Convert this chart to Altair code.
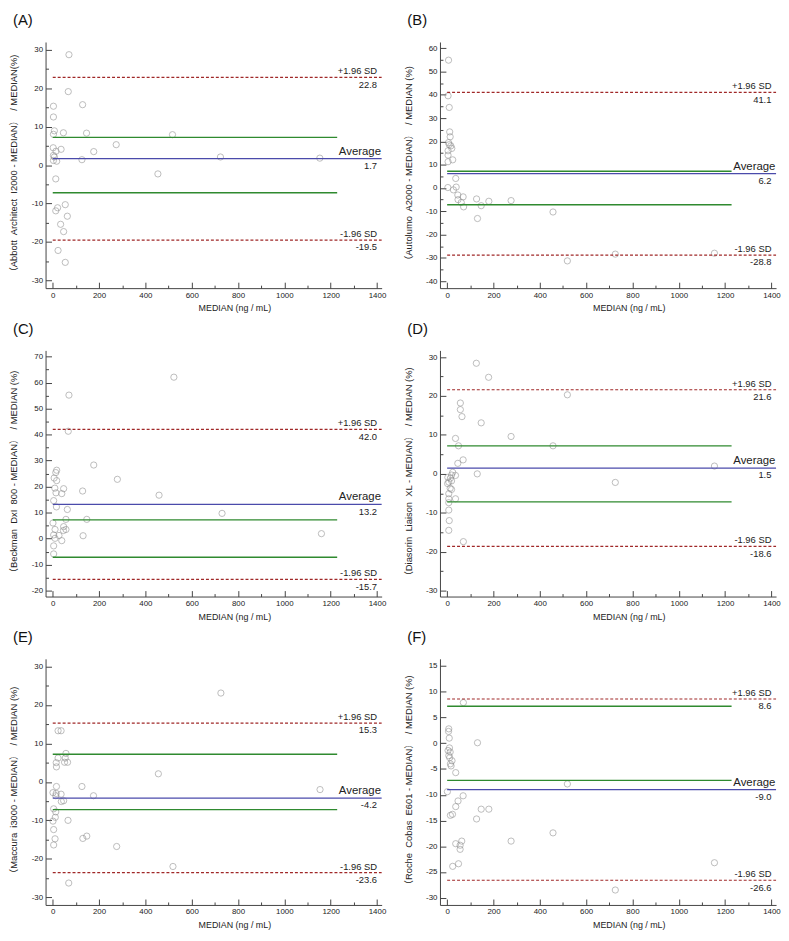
import altair as alt
import pandas as pd

FONT = "Liberation Sans"
CJK_FONT = "Liberation Sans, Noto Sans CJK SC"
NB = "\u00a0"

# ---------------- data ----------------
PANEL_LABELS = ["(A)", "(B)", "(C)", "(D)", "(E)", "(F)"]
Y_TITLES = [
    "（Abbott  Architect  I2000 - MEDIAN）  / MEDIAN(%)",
    "（Autolumo  A2000 - MEDIAN）  / MEDIAN (%)",
    "（Beckman  DxI  800 - MEDIAN）  / MEDIAN (%)",
    "（Diasorin  Liaison  XL - MEDIAN）  / MEDIAN (%)",
    "（Maccura  i3000 - MEDIAN）  / MEDIAN (%)",
    "（Roche  Cobas  E601 - MEDIAN）  / MEDIAN (%)",
]
X_TITLE = "MEDIAN (ng / mL)"

A_X = [70, 67, 3, 129, 3, 7, 3, 46, 146, 517, 2, 36, 14, 177, 274, 3, 7, 3, 17, 126, 724, 1153, 454, 13, 54, 21, 13, 63, 34, 47, 23, 54]
A_Y = [28.7, 19.1, 15.3, 15.7, 12.5, 8.9, 8.0, 8.4, 8.3, 7.9, 4.5, 4.1, 3.6, 3.5, 5.3, 2.5, 2.1, 1.2, 1.0, 1.4, 2.1, 1.8, -2.3, -3.6, -10.3, -11.1, -11.9, -13.3, -15.4, -17.3, -22.2, -25.3]

B_X = [6, 4, 9, 11, 13, 6, 9, 16, 20, 4, 4, 24, 4, 37, 39, 3, 27, 46, 47, 69, 61, 71, 127, 147, 180, 276, 131, 457, 519, 726, 1154]
B_Y = [54.9, 39.6, 34.6, 24.1, 22.0, 19.5, 18.6, 18.1, 17.0, 16.0, 14.1, 12.1, 11.3, 4.1, 0.4, 0.2, -0.8, -3.0, -5.0, -3.8, -6.2, -8.1, -4.7, -7.6, -5.7, -5.4, -13.1, -10.3, -31.3, -28.4, -28.0]

C_X = [523, 70, 67, 177, 279, 17, 13, 6, 17, 9, 47, 14, 39, 129, 459, 4, 16, 63, 731, 57, 147, 1, 47, 10, 57, 46, 4, 27, 10, 131, 1160, 39, 4, 4]
C_Y = [62.1, 55.2, 41.3, 28.3, 22.8, 26.3, 25.4, 23.3, 22.3, 19.4, 19.2, 17.6, 17.3, 18.3, 16.7, 14.6, 12.2, 11.2, 9.7, 7.4, 7.4, 6.0, 4.6, 3.5, 3.5, 3.1, 1.4, 1.2, 0.1, 1.1, 1.9, -0.8, -2.8, -5.9]

D_X = [126, 179, 519, 57, 57, 64, 147, 276, 36, 49, 457, 69, 46, 1154, 24, 19, 36, 3, 14, 7, 19, 2, 13, 19, 7, 36, 7, 130, 726, 7, 7, 9, 7, 70]
D_Y = [28.4, 24.8, 20.3, 18.2, 16.5, 14.7, 13.1, 9.6, 9.1, 7.2, 7.2, 3.6, 2.7, 2.0, 0.4, -0.3, -0.4, -0.9, -1.1, -2.1, -1.8, -2.5, -3.7, -4.0, -5.1, -6.4, -6.4, 0.0, -2.2, -7.4, -9.3, -12.0, -14.5, -17.4]

E_X = [1154, 726, 519, 456, 276, 176, 147, 130, 126, 69, 66, 57, 54, 51, 64, 23, 23, 36, 15, 16, 16, 1, 36, 15, 13, 37, 47, 4, 13, 11, 1, 4, 10, 4]
E_Y = [-2.0, 23.1, -22.0, 2.1, -16.8, -3.6, -14.1, -14.7, -1.2, -26.3, -10.0, 7.4, 6.2, 5.1, 5.1, 6.2, 13.3, 13.3, 5.0, 3.9, -1.2, -2.8, -3.2, -3.0, -3.6, -5.1, -4.9, -7.0, -7.8, -9.2, -10.2, -12.4, -14.8, -16.4]

F_X = [70, 7, 6, 9, 131, 10, 4, 13, 7, 11, 21, 14, 17, 37, 519, 1, 69, 47, 37, 147, 180, 23, 14, 127, 457, 63, 276, 37, 56, 56, 49, 24, 1154, 726]
F_Y = [7.9, 2.8, 2.3, 1.0, 0.1, -0.9, -1.4, -1.7, -2.4, -2.8, -3.4, -4.0, -4.4, -5.7, -7.9, -9.4, -10.2, -11.2, -12.3, -12.8, -12.8, -13.8, -14.0, -14.7, -17.4, -19.0, -19.0, -19.5, -19.8, -20.6, -23.4, -23.9, -23.2, -28.5]

XS = [A_X, B_X, C_X, D_X, E_X, F_X]
YS = [A_Y, B_Y, C_Y, D_Y, E_Y, F_Y]

MEANS = [1.7, 6.2, 13.2, 1.5, -4.2, -9.0]
UPPER = [22.8, 41.1, 42.0, 21.6, 15.3, 8.6]
LOWER = [-19.5, -28.8, -15.7, -18.6, -23.6, -26.6]
GREEN_LIMITS = [7.2, -7.2]

X_DOMAIN = [-31, 1420]
LINE_START = 0
LINE_END = 1420
GREEN_END = 1228
LABEL_X = 1400

X_MAJOR = [0, 200, 400, 600, 800, 1000, 1200, 1400]
X_MINOR = [100, 300, 500, 700, 900, 1100, 1300]

Y_DOMAINS = [[-32, 32], [-43, 62.7], [-22.3, 72.4], [-31.5, 31.7], [-32, 32], [-31.4, 16.4]]
Y_MAJOR = [
    [-30, -20, -10, 0, 10, 20, 30],
    [-40, -30, -20, -10, 0, 10, 20, 30, 40, 50, 60],
    [-20, -10, 0, 10, 20, 30, 40, 50, 60, 70],
    [-30, -20, -10, 0, 10, 20, 30],
    [-30, -20, -10, 0, 10, 20, 30],
    [-30, -25, -20, -15, -10, -5, 0, 5, 10, 15],
]
Y_MINOR = [
    [-25, -15, -5, 5, 15, 25],
    [-35, -25, -15, -5, 5, 15, 25, 35, 45, 55],
    [-15, -5, 5, 15, 25, 35, 45, 55, 65],
    [-25, -15, -5, 5, 15, 25],
    [-25, -15, -5, 5, 15, 25],
    [],
]

# ---------------- style ----------------
W, H = 340, 249
AXIS_COLOR = "#444444"
TEXT_COLOR = "#222222"
POINT_COLOR = "#8a8a8a"
AVG_COLOR = "#4b4bab"
SD_COLOR = "#a02828"
GREEN_COLOR = "#2f8a2f"

LABEL_EXPR = "'' + datum.value"


def keep_spaces(s):
    # SVG collapses runs of spaces; keep the double gaps of the original
    return s.replace("  ", NB + " ")


def tick_axis(orient, values, size):
    return alt.Axis(
        orient=orient, values=values, labels=False, domain=False, ticks=True,
        tickSize=size, offset=-size, tickColor=AXIS_COLOR, tickWidth=1,
        grid=False, title=None,
    )


def panel(i):
    xs = alt.Scale(domain=X_DOMAIN, nice=False, zero=False)
    ys = alt.Scale(domain=Y_DOMAINS[i], nice=False, zero=False)

    main_x = alt.Axis(
        orient="bottom", values=X_MAJOR, ticks=False, grid=False, domain=True,
        domainColor=AXIS_COLOR, labelPadding=3, labelExpr=LABEL_EXPR,
        labelFont=FONT, labelFontSize=8, labelColor=TEXT_COLOR,
        title=X_TITLE, titleFont=FONT, titleFontSize=9, titleFontWeight="normal",
        titleColor=TEXT_COLOR, titleX=191, titleY=16, titleBaseline="top",
        titleAlign="center",
    )
    main_y = alt.Axis(
        orient="left", values=Y_MAJOR[i], ticks=False, grid=False, domain=True,
        domainColor=AXIS_COLOR, labelPadding=3, labelExpr=LABEL_EXPR,
        labelFont=FONT, labelFontSize=8, labelColor=TEXT_COLOR,
        title=keep_spaces(Y_TITLES[i]), titleFont=CJK_FONT, titleFontSize=9.5,
        titleFontWeight="normal", titleColor=TEXT_COLOR,
        titleX=-27, titleY=H / 2, titleAlign="center", titleBaseline="bottom",
        titleAngle=270,
    )

    pts = pd.DataFrame({"x": XS[i], "y": YS[i]})
    points = alt.Chart(pts).mark_point(
        shape="circle", filled=False, size=40, color=POINT_COLOR, strokeWidth=0.8
    ).encode(
        x=alt.X("x:Q", scale=xs, axis=main_x),
        y=alt.Y("y:Q", scale=ys, axis=main_y),
    )

    avg_df = pd.DataFrame({"x0": [LINE_START], "x1": [LINE_END], "v": [MEANS[i]]})
    avg = alt.Chart(avg_df).mark_rule(color=AVG_COLOR, strokeWidth=1.3).encode(
        x=alt.X("x0:Q", scale=xs, axis=tick_axis("bottom", X_MAJOR, 6)),
        x2="x1:Q",
        y=alt.Y("v:Q", scale=ys, axis=tick_axis("left", Y_MAJOR[i], 6)),
    )

    sd_df = pd.DataFrame({"x0": [LINE_START, LINE_START], "x1": [LINE_END, LINE_END],
                          "v": [UPPER[i], LOWER[i]]})
    sd = alt.Chart(sd_df).mark_rule(color=SD_COLOR, strokeWidth=1.2, strokeDash=[3, 2]).encode(
        x=alt.X("x0:Q", scale=xs, axis=tick_axis("bottom", X_MINOR, 3)),
        x2="x1:Q",
        y=alt.Y("v:Q", scale=ys, axis=tick_axis("left", Y_MINOR[i], 3) if Y_MINOR[i] else None),
    )

    g_df = pd.DataFrame({"x0": [LINE_START, LINE_START], "x1": [GREEN_END, GREEN_END],
                         "v": GREEN_LIMITS})
    green = alt.Chart(g_df).mark_rule(color=GREEN_COLOR, strokeWidth=1.4).encode(
        x=alt.X("x0:Q", scale=xs, axis=None),
        x2="x1:Q",
        y=alt.Y("v:Q", scale=ys, axis=None),
    )

    sd_lab = pd.DataFrame({"x": [LABEL_X, LABEL_X], "v": [UPPER[i], LOWER[i]],
                           "t": ["+1.96 SD", "-1.96 SD"]})
    sd_text = alt.Chart(sd_lab).mark_text(
        align="right", baseline="alphabetic", dy=-3, font=FONT, fontSize=9.5, color=TEXT_COLOR
    ).encode(
        x=alt.X("x:Q", scale=xs, axis=None),
        y=alt.Y("v:Q", scale=ys, axis=None),
        text="t:N",
    )

    avg_lab = pd.DataFrame({"x": [LABEL_X], "v": [MEANS[i]], "t": ["Average"]})
    avg_text = alt.Chart(avg_lab).mark_text(
        align="right", baseline="alphabetic", dy=-4, dx=4, font=FONT, fontSize=11.5, color=TEXT_COLOR
    ).encode(
        x=alt.X("x:Q", scale=xs, axis=None),
        y=alt.Y("v:Q", scale=ys, axis=None),
        text="t:N",
    )

    vals = [UPPER[i], MEANS[i], LOWER[i]]
    val_lab = pd.DataFrame({"x": [LABEL_X] * 3, "v": vals, "t": [f"{v:.1f}" for v in vals]})
    val_text = alt.Chart(val_lab).mark_text(
        align="right", baseline="alphabetic", dy=10.5, font=FONT, fontSize=9.5, color=TEXT_COLOR
    ).encode(
        x=alt.X("x:Q", scale=xs, axis=None),
        y=alt.Y("v:Q", scale=ys, axis=None),
        text="t:N",
    )

    return alt.layer(points, avg, sd, green, sd_text, avg_text, val_text).resolve_axis(
        x="independent", y="independent"
    ).properties(
        width=W, height=H,
        title=alt.TitleParams(
            text=PANEL_LABELS[i], anchor="start", frame="group", dx=-33,
            fontSize=15, font=FONT, fontWeight="normal", color="#111111", offset=14,
        ),
    )


chart = alt.concat(
    *[panel(i) for i in range(6)],
    columns=2,
    spacing={"row": 63, "column": 59},
    bounds="flush",
).properties(
    padding=0, background="white"
).configure_view(stroke=None)

chart.save("out.html", embed_options={"renderer": "svg", "actions": False})
